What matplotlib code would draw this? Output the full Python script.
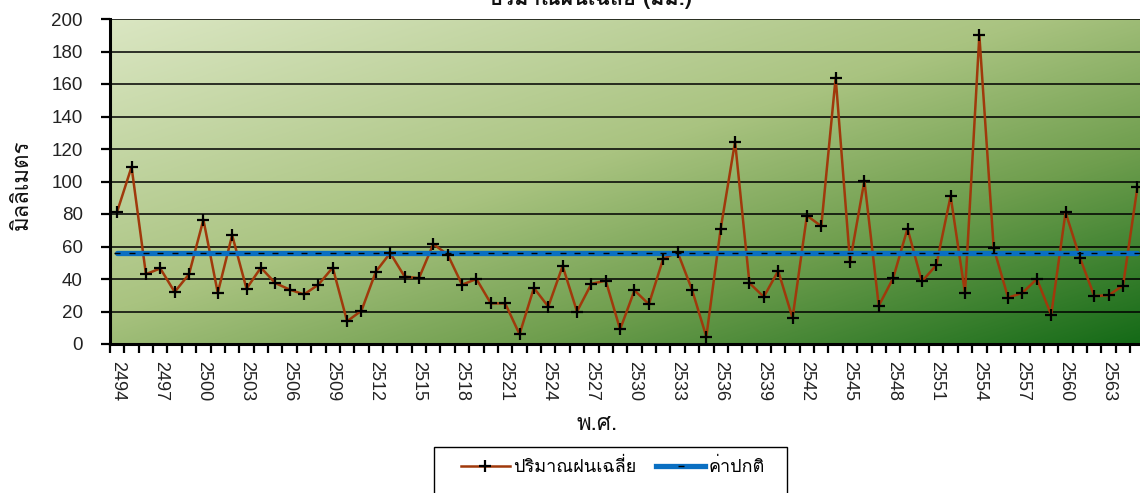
import numpy as np
import matplotlib
matplotlib.use("Agg")
import matplotlib.pyplot as plt
from matplotlib import font_manager as fm
from matplotlib.ft2font import FT2Font
from matplotlib.colors import LinearSegmentedColormap
from matplotlib.lines import Line2D
from matplotlib.patches import Rectangle

# ---------------- data ----------------
years = list(range(2494, 2566))
rain = [81.5, 109, 43, 46.5, 32, 43, 76.5, 31.5, 67, 34,
        47, 37.5, 33.5, 30.5, 36.5, 47, 14, 20.5, 44.5, 56,
        41.5, 40.5, 61.5, 55, 36.5, 40, 25, 25, 6, 34.5,
        23, 48, 20, 37, 39, 9, 33, 24.5, 52.5, 56.5,
        33.5, 4.5, 71, 124.5, 37.5, 29, 45, 16, 79, 72.5,
        164, 50.5, 100.5, 23.5, 40.5, 71, 38.5, 48.5, 91, 31.5,
        190, 59, 28.5, 31.5, 40, 18, 81, 53, 29.5, 30,
        36, 96.5]
normal_value = 56.2
yticks = [0, 20, 40, 60, 80, 100, 120, 140, 160, 180, 200]
label_years = years[::3]

title = "ปริมาณฝนเฉลี่ย (มม.)"
ylabel = "มิลลิเมตร"
xlabel = "พ.ศ."
leg_rain = "ปริมาณฝนเฉลี่ย"
leg_normal = "ค่าปกติ"

# ---------------- font with Thai glyphs ----------------
thai_font = None
seen = set()
for f in fm.fontManager.ttflist:
    if f.fname in seen:
        continue
    seen.add(f.fname)
    try:
        cm = FT2Font(f.fname).get_charmap()
        if 0x0E1B in cm and 0x0E34 in cm and 0x0E13 in cm:
            thai_font = f.name
            break
    except Exception:
        pass
fam = ([thai_font] if thai_font else []) + ["Liberation Sans", "DejaVu Sans"]
plt.rcParams["font.family"] = fam
num_font = ["Liberation Sans", "DejaVu Sans"]

W, H = 1140, 493
fig = plt.figure(figsize=(W / 100, H / 100), dpi=100)
ax_left, ax_right, ax_top, ax_bot = 110, 1144.6, 19, 344
ax = fig.add_axes([ax_left / W, (H - ax_bot) / H, (ax_right - ax_left) / W, (ax_bot - ax_top) / H])

# gradient background
n = 300
u = np.linspace(0, 1, n)
U, V = np.meshgrid(u, u)
T = (U + V) / 2.0  # V: 0 at top (imshow origin upper)
cmap = LinearSegmentedColormap.from_list(
    "g", [(0.0, "#dae6c2"), (0.45, "#a9c380"), (0.7, "#6f9e4e"), (1.0, "#146a17")])
ax.imshow(T, cmap=cmap, extent=[0, 1, 0, 1], transform=ax.transAxes,
          aspect="auto", zorder=0, interpolation="bilinear")
ax.patch.set_visible(False)

x = np.arange(len(years))
ax.plot(x, rain, color="#a0390b", lw=1.8, zorder=3)
ax.plot(x, [normal_value] * len(years), color="#0a6fc2", lw=3.8, zorder=4,
        solid_capstyle="round")
ax.plot(x, [normal_value] * len(years), ls="none", marker="_", ms=4, mew=1,
        mec="black", zorder=5)
ax.plot(x, rain, ls="none", marker="+", ms=9, mew=1.6, mec="black", zorder=6)

ax.set_xlim(-0.5, len(years) - 0.5)
ax.set_ylim(0, 200)

ax.set_yticks(yticks)
ax.set_yticklabels([str(v) for v in yticks], fontsize=13.5, family=num_font, color="#222222")
ax.yaxis.grid(True, color="black", lw=1.1, zorder=1)
ax.set_axisbelow(True)

ax.set_xticks(np.arange(-0.5, len(years), 1.0))
ax.set_xticklabels([])
ax.set_xticks([years.index(y) for y in label_years], minor=True)
ax.set_xticklabels([str(y) for y in label_years], minor=True, rotation=-90,
                   fontsize=13, family=num_font, color="#222222", va="top", ha="center")
ax.tick_params(axis="x", which="major", direction="out", length=6.5, width=1.6, color="black")
ax.tick_params(axis="x", which="minor", length=0, pad=12)
ax.tick_params(axis="y", direction="out", length=6.5, width=1.6, color="black", pad=13)

for s in ["top", "right"]:
    ax.spines[s].set_visible(False)
for s in ["left", "bottom"]:
    ax.spines[s].set_linewidth(2.2)
    ax.spines[s].set_color("black")
    ax.spines[s].set_zorder(7)

# title (cut by the top edge as in the reference)
fig.text(590 / W, (H - 5) / H, title, fontsize=15.5, fontweight="bold",
         ha="center", va="baseline", color="#111111")
fig.text(22 / W, (H - 185) / H, ylabel, fontsize=16, rotation=90,
         ha="center", va="center", color="#111111")
fig.text(597 / W, (H - 425) / H, xlabel, fontsize=16,
         ha="center", va="center", color="#111111")

# legend
h1 = Line2D([], [], color="#a0390b", lw=1.8, marker="+", ms=9, mew=1.6, mec="black")
h2 = Line2D([], [], color="#0a6fc2", lw=3.8, marker="_", ms=4, mew=1, mec="black")
leg = fig.legend([h1, h2], [leg_rain, leg_normal], ncol=2, frameon=False,
                 loc="center left", bbox_to_anchor=(461 / W, (H - 467) / H),
                 fontsize=13, handlelength=2.7, handletextpad=0.2, columnspacing=1.1,
                 borderpad=0, borderaxespad=0)
fig.patches.append(Rectangle((433.5 / W, -0.05), (787 - 433.5) / W, (H - 447) / H + 0.05,
                             transform=fig.transFigure, fill=False, ec="black", lw=1))

fig.savefig("out.png", dpi=100)
